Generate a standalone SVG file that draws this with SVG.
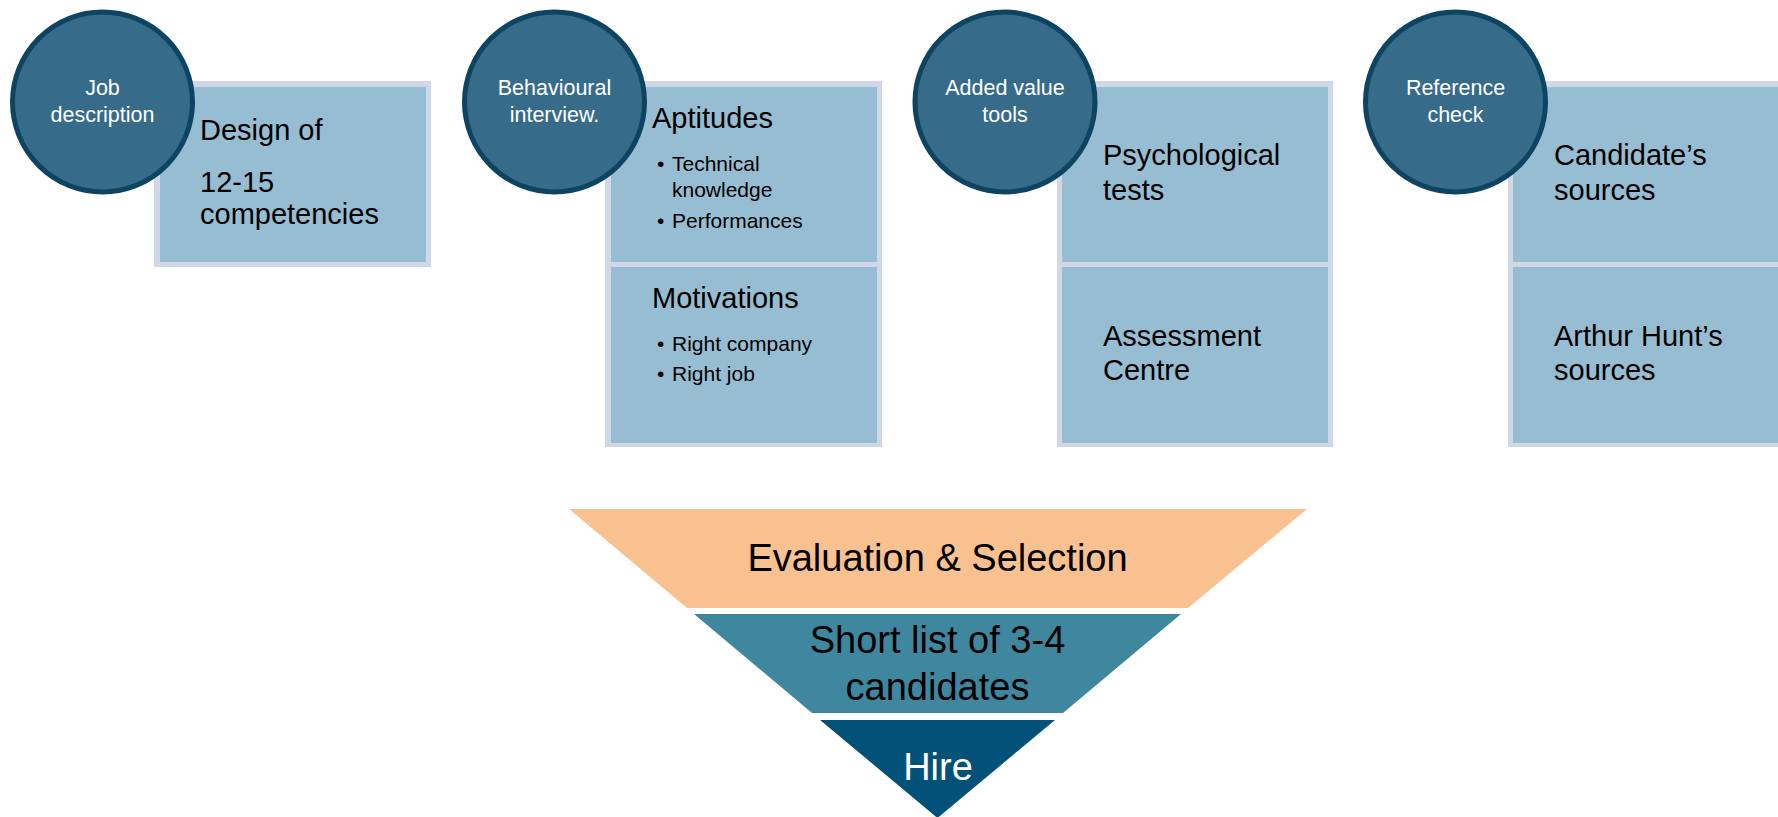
<svg xmlns="http://www.w3.org/2000/svg" width="1778" height="817" viewBox="0 0 1778 817">
<style>
.frame{fill:#D0D8E8}
.panel{fill:#97BDD3}
.circ{fill:#376B8A;stroke:#0D4462;stroke-width:5}
.ct{font-family:"Liberation Sans",Arial,sans-serif;font-size:21.5px;fill:#FFFFFF;text-anchor:middle}
.bt{font-family:"Liberation Sans",Arial,sans-serif;font-size:29px;fill:#000000}
.st{font-family:"Liberation Sans",Arial,sans-serif;font-size:21px;fill:#000000}
.ft{font-family:"Liberation Sans",Arial,sans-serif;font-size:38px;fill:#000000;text-anchor:middle}
</style>
<rect width="1778" height="817" fill="#FFFFFF"/>
<g id="connectors"/>
<g id="box-job">
<rect class="frame" x="154" y="81" width="277" height="186"/>
<rect class="panel" x="160" y="87" width="266" height="175"/>
<text class="bt" x="200" y="140">Design of</text>
<text class="bt" x="200" y="192">12-15</text>
<text class="bt" x="200" y="224">competencies</text>
</g>
<g id="box-interview">
<rect class="frame" x="605" y="81" width="277" height="366"/>
<rect class="panel" x="611" y="87" width="266" height="175"/>
<rect class="panel" x="611" y="267" width="266" height="176"/>
<text class="bt" x="652" y="128">Aptitudes</text>
<text class="st" x="657" y="171">•</text>
<text class="st" x="672" y="171">Technical</text>
<text class="st" x="672" y="197">knowledge</text>
<text class="st" x="657" y="228">•</text>
<text class="st" x="672" y="228">Performances</text>
<text class="bt" x="652" y="308">Motivations</text>
<text class="st" x="657" y="351">•</text>
<text class="st" x="672" y="351">Right company</text>
<text class="st" x="657" y="381">•</text>
<text class="st" x="672" y="381">Right job</text>
</g>
<g id="box-tools">
<rect class="frame" x="1057" y="81" width="276" height="366"/>
<rect class="panel" x="1062" y="87" width="266" height="175"/>
<rect class="panel" x="1062" y="267" width="266" height="176"/>
<text class="bt" x="1103" y="165">Psychological</text>
<text class="bt" x="1103" y="200">tests</text>
<text class="bt" x="1103" y="346">Assessment</text>
<text class="bt" x="1103" y="380">Centre</text>
</g>
<g id="box-reference">
<rect class="frame" x="1508" y="81" width="280" height="366"/>
<rect class="panel" x="1513" y="87" width="270" height="175"/>
<rect class="panel" x="1513" y="267" width="270" height="176"/>
<text class="bt" x="1554" y="165">Candidate’s</text>
<text class="bt" x="1554" y="200">sources</text>
<text class="bt" x="1554" y="346">Arthur Hunt’s</text>
<text class="bt" x="1554" y="380">sources</text>
</g>
<g id="circle-job">
<circle class="circ" cx="102.5" cy="102" r="90"/>
<text class="ct" x="102.5" y="95">Job</text>
<text class="ct" x="102.5" y="122">description</text>
</g>
<g id="circle-interview">
<circle class="circ" cx="554.5" cy="102" r="90"/>
<text class="ct" x="554.5" y="95">Behavioural</text>
<text class="ct" x="554.5" y="122">interview.</text>
</g>
<g id="circle-tools">
<circle class="circ" cx="1005" cy="102" r="90"/>
<text class="ct" x="1005" y="95">Added value</text>
<text class="ct" x="1005" y="122">tools</text>
</g>
<g id="circle-reference">
<circle class="circ" cx="1455.5" cy="102" r="90"/>
<text class="ct" x="1455.5" y="95">Reference</text>
<text class="ct" x="1455.5" y="122">check</text>
</g>
<g id="funnel-evaluation">
<polygon points="569,509 1307,509 1188,608 687,608" fill="#F9C190"/>
<text class="ft" x="937.5" y="571">Evaluation &amp; Selection</text>
</g>
<g id="funnel-shortlist">
<polygon points="694,614 1181,614 1063,713 812,713" fill="#3F869F"/>
<text class="ft" x="937.5" y="653">Short list of 3-4</text>
<text class="ft" x="937.5" y="700">candidates</text>
</g>
<g id="funnel-hire">
<polygon points="820,720 1055,720 937.5,818" fill="#015179"/>
<text class="ft" x="938" y="780" fill="#FFFFFF" style="fill:#FFFFFF">Hire</text>
</g>
</svg>
